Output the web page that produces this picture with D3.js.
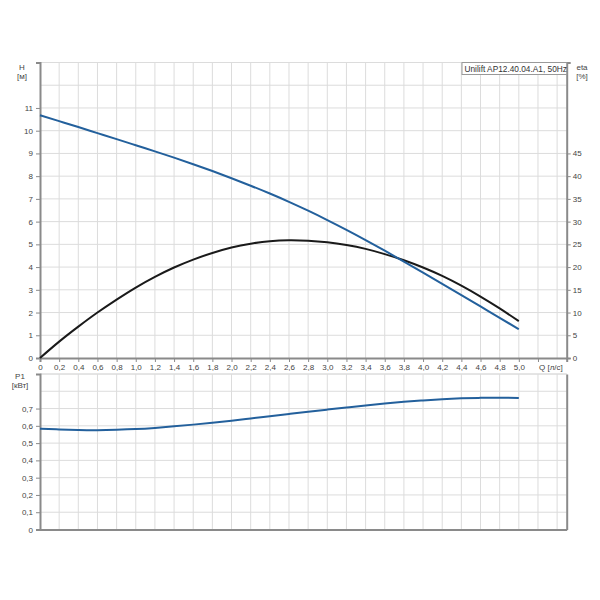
<!DOCTYPE html>
<html><head><meta charset="utf-8">
<script src="https://cdn.jsdelivr.net/npm/d3@7"></script>
<style>body{margin:0;background:#fff}svg{font-family:"Liberation Sans",Arial,sans-serif}</style>
</head><body><svg id="c" width="600" height="600"></svg>
<script>
const flow = [0,0.2,0.4,0.6,0.8,1.0,1.2,1.4,1.6,1.8,2.0,2.2,2.4,2.6,2.8,3.0,3.2,3.4,3.6,3.8,4.0,4.2,4.4,4.6,4.8,5.0];
const head = [10.68,10.42,10.16,9.895,9.63,9.36,9.09,8.815,8.525,8.225,7.91,7.58,7.235,6.87,6.48,6.07,5.64,5.19,4.72,4.24,3.755,3.265,2.77,2.27,1.77,1.265];
const eta = [0,3.6,6.9,10.0,12.85,15.5,17.85,19.9,21.65,23.1,24.3,25.15,25.7,25.9,25.8,25.45,24.85,24.0,22.85,21.5,19.9,18.05,15.9,13.5,10.9,8.1];
const power = [0.583,0.579,0.576,0.575,0.577,0.581,0.588,0.597,0.607,0.618,0.630,0.643,0.656,0.669,0.682,0.694,0.706,0.718,0.729,0.739,0.747,0.754,0.759,0.762,0.763,0.761];
const qTicks = d3.range(0, 5.01, 0.2);
const hTicks = d3.range(0, 12, 1);
const etaTicks = d3.range(0, 46, 5);
const pTicks = [0,0.1,0.2,0.3,0.4,0.5,0.6,0.7];
const legendText = "Unilift AP12.40.04.A1, 50Hz";

const svg = d3.select("#c");
const L = 40, R = 566.7;
const x = d3.scaleLinear().domain([0,5.5]).range([L,R]);
const yH = d3.scaleLinear().domain([0,13]).range([358,62.5]);
const yE = d3.scaleLinear().domain([0,65]).range([358,62.5]);
const yP = d3.scaleLinear().domain([0,0.9]).range([529.5,374]);
const fmt = d => d3.format(".1f")(d).replace(".", ",");
const grid = "#dcdcdc", axisC = "#8a8a8a", txt = "#444";

function panel(y, top, bottom, hLines) {
  const g = svg.append("g");
  g.selectAll(".vg").data(d3.range(0.2, 5.51, 0.2)).join("line")
    .attr("x1", d=>x(d)).attr("x2", d=>x(d)).attr("y1", top).attr("y2", bottom)
    .attr("stroke", grid).attr("stroke-width", 1);
  g.selectAll(".hg").data(hLines).join("line")
    .attr("x1", L).attr("x2", R).attr("y1", d=>y(d)).attr("y2", d=>y(d))
    .attr("stroke", grid).attr("stroke-width", 1);
  g.append("line").attr("x1", L).attr("x2", R).attr("y1", top).attr("y2", top).attr("stroke", grid);
  return g;
}

panel(yH, 62.5, 358, d3.range(1, 14, 1));
panel(yP, 374, 529.5, d3.range(0.1, 0.91, 0.1).map(v=>+v.toFixed(1)));

const axL = svg.append("g").attr("transform", `translate(${L},0)`)
  .call(d3.axisLeft(yH).tickValues(hTicks).tickSize(4).tickPadding(3).tickFormat(d3.format("d")));
const axR = svg.append("g").attr("transform", `translate(${R},0)`)
  .call(d3.axisRight(yE).tickValues(etaTicks).tickSize(4).tickPadding(2).tickFormat(d3.format("d")));
const axB = svg.append("g").attr("transform", `translate(0,358)`)
  .call(d3.axisBottom(x).tickValues(qTicks.concat([5.2])).tickSize(4).tickPadding(2)
    .tickFormat(d => d > 5.1 ? "" : fmt(d)));
const axL2 = svg.append("g").attr("transform", `translate(${L},0)`)
  .call(d3.axisLeft(yP).tickValues(pTicks).tickSize(4).tickPadding(3)
    .tickFormat(d => d === 0 ? "0" : fmt(d)));
const axB2 = svg.append("g").attr("transform", `translate(0,529.5)`)
  .call(d3.axisBottom(x).tickValues([]).tickSize(0));
const axR2 = svg.append("g").attr("transform", `translate(${R},0)`)
  .call(d3.axisRight(yP).tickValues([]).tickSize(0));

[axL, axR, axB, axL2, axB2, axR2].forEach(a => {
  a.select(".domain").attr("stroke", axisC).attr("stroke-width", 2);
  a.selectAll(".tick line").attr("stroke", axisC).attr("stroke-width", 1);
  a.selectAll("text").attr("fill", txt).attr("font-size", 8).attr("font-family", "Liberation Sans, Arial, sans-serif");
});
axB.selectAll(".tick text").filter(d => d === 0).text("0");

const t = (xx, yy, s, anchor) => svg.append("text").attr("x", xx).attr("y", yy).text(s)
  .attr("font-size", 8).attr("fill", txt).attr("text-anchor", anchor || "middle");
t(22, 70, "H"); t(22, 79, "[м]");
t(582, 70, "eta"); t(582, 79, "[%]");
t(20, 379, "P1"); t(20, 388, "[кВт]");
t(539, 369.5, "Q [л/с]", "start");

svg.append("rect").attr("x", 462).attr("y", 62.5).attr("width", R - 462).attr("height", 12)
  .attr("fill", "#fff").attr("stroke", "#999").attr("stroke-width", 1);
svg.append("text").attr("x", 464.5).attr("y", 71.5).text(legendText)
  .attr("font-size", 8.3).attr("fill", "#333");

const blue = "#23609c";
const mk = (ys, yScale) => d3.line().x((d,i)=>x(flow[i])).y(d=>yScale(d)).curve(d3.curveNatural)(ys);
svg.append("path").attr("d", mk(eta, yE)).attr("fill","none").attr("stroke","#1a1a1a").attr("stroke-width",2);
svg.append("path").attr("d", mk(head, yH)).attr("fill","none").attr("stroke",blue).attr("stroke-width",2);
svg.append("path").attr("d", mk(power, yP)).attr("fill","none").attr("stroke",blue).attr("stroke-width",2);
</script></body></html>
